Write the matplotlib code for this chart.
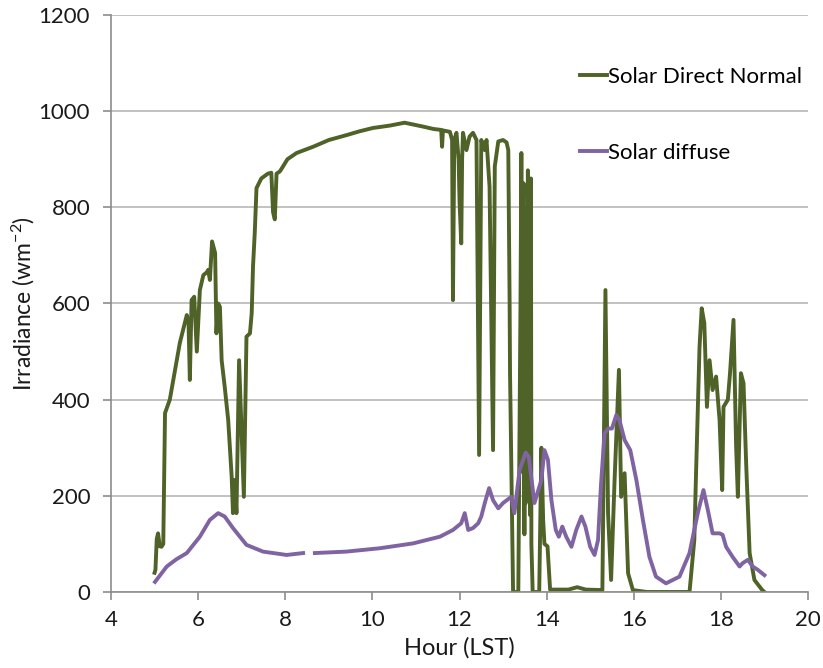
import matplotlib
matplotlib.use('Agg')
import matplotlib.pyplot as plt
import numpy as np

plt.rcParams['font.family'] = ['Lato', 'DejaVu Sans']
plt.rcParams['mathtext.default'] = 'regular'

# Solar Direct Normal (hour LST, W m-2)
direct_hours = [5.00, 5.02, 5.05, 5.08, 5.12, 5.16, 5.20, 5.24, 5.35, 5.58, 5.74, 5.78, 5.81, 5.85,
                5.91, 5.97, 6.04, 6.12, 6.20, 6.23, 6.27, 6.32, 6.39, 6.42, 6.46, 6.50, 6.54, 6.61,
                6.69, 6.77, 6.80, 6.84, 6.88, 6.94, 7.00, 7.05, 7.11, 7.19, 7.23, 7.26, 7.30, 7.34,
                7.45, 7.60, 7.68, 7.72, 7.76, 7.80, 7.88, 8.05, 8.26, 8.64, 9.00, 9.40, 9.70, 10.01,
                10.40, 10.74, 10.95, 11.16, 11.40, 11.58, 11.60, 11.62, 11.78, 11.83, 11.85, 11.88,
                11.93, 11.98, 12.00, 12.04, 12.06, 12.08, 12.16, 12.23, 12.31, 12.39, 12.45, 12.50,
                12.58, 12.62, 12.69, 12.77, 12.81, 12.89, 13.00, 13.08, 13.12, 13.15, 13.16, 13.23,
                13.35, 13.40, 13.42, 13.44, 13.45, 13.47, 13.49, 13.50, 13.52, 13.53, 13.55, 13.57,
                13.58, 13.60, 13.62, 13.64, 13.65, 13.68, 13.83,
                13.88, 13.92, 13.95, 14.02, 14.08, 14.50, 14.70, 14.90, 15.28, 15.35, 15.41, 15.48,
                15.56, 15.66, 15.71, 15.79, 15.87, 15.98, 16.30, 17.28, 17.39, 17.43, 17.51, 17.56,
                17.62, 17.68, 17.74, 17.81, 17.89, 17.97, 18.03, 18.06, 18.16, 18.21, 18.29, 18.35,
                18.39, 18.46, 18.52, 18.58, 18.66, 18.77, 18.95, 19.00]
direct_vals = [40, 46, 110, 122, 95, 94, 100, 372, 400, 518, 576, 560, 441, 607,
               614, 500, 628, 659, 665, 670, 649, 729, 705, 538, 600, 593, 482, 427,
               358, 240, 164, 233, 164, 482, 330, 198, 531, 538, 580, 677, 747, 840,
               860, 870, 872, 790, 775, 870, 875, 900, 913, 926, 940, 950, 958, 965,
               970, 976, 972, 968, 963, 961, 926, 960, 957, 940, 607, 940,
               955, 900, 815, 725, 900, 955, 919, 947, 955, 940, 285, 940,
               919, 940, 843, 295, 885, 937, 940, 935, 919, 607, 455, 0,
               0, 600, 913, 250, 700, 850, 120, 600, 185, 800, 300, 877,
               200, 820, 160, 860, 100, 0, 0,
               300, 150, 100, 95, 5, 5, 10, 5, 4, 628, 164, 25,
               233, 462, 198, 247, 39, 4, 0, 0, 108, 247, 510, 590,
               559, 385, 482, 420, 448, 358, 212, 385, 400, 455, 566, 302,
               198, 455, 434, 268, 81, 25, 4, 0]

# Solar diffuse (gap in the record around 8.5 h)
diffuse_hours = [5.01, 5.28, 5.50, 5.74, 6.04, 6.27, 6.46, 6.61, 6.80, 7.11, 7.49, 7.88, 8.03, 8.41,
                 8.50, 8.68, 9.40, 10.17, 10.93, 11.55, 11.85, 12.04, 12.12, 12.20, 12.31, 12.43,
                 12.50, 12.58, 12.68, 12.77, 12.89, 13.00, 13.19, 13.26, 13.38, 13.52, 13.59, 13.72,
                 13.88, 13.95, 14.03, 14.11, 14.21, 14.28, 14.36, 14.45, 14.57, 14.68, 14.80, 14.89,
                 15.00, 15.10, 15.18, 15.25, 15.33, 15.41, 15.50, 15.60, 15.67, 15.79, 15.92, 16.06,
                 16.21, 16.36, 16.51, 16.74, 17.05, 17.28, 17.47, 17.60, 17.70, 17.81, 17.97, 18.04,
                 18.12, 18.27, 18.43, 18.50, 18.62, 18.73, 18.85, 19.00]
diffuse_vals = [21, 53, 68, 81, 115, 150, 164, 157, 133, 98, 84, 79, 77, 81,
                np.nan, 81, 84, 91, 101, 115, 129, 143, 164, 129, 133, 143,
                157, 185, 216, 191, 174, 185, 198, 164, 254, 290, 281, 185,
                233, 295, 275, 191, 129, 115, 136, 115, 94, 129, 157, 136,
                94, 77, 108, 226, 330, 340, 340, 368, 358, 316, 295, 233,
                150, 73, 32, 18, 32, 81, 164, 212, 171, 122, 122, 119,
                94, 73, 53, 60, 67, 53, 46, 35]

x_ticks = [4, 6, 8, 10, 12, 14, 16, 18, 20]
y_ticks = [0, 200, 400, 600, 800, 1000, 1200]

fig = plt.figure(figsize=(8.23, 6.68), dpi=100)
ax = fig.add_axes([111 / 823, 1 - 592 / 668, 697 / 823, 577 / 668])

ax.plot(direct_hours, direct_vals, color='#4f6228', linewidth=2.8, label='Solar Direct Normal')
ax.plot(diffuse_hours, diffuse_vals, color='#8064a2', linewidth=2.8, label='Solar diffuse')

ax.set_xlim(4, 20)
ax.set_ylim(0, 1200)
ax.set_xticks(x_ticks)
ax.set_yticks(y_ticks)
ax.grid(axis='y', color='#b8b8b8', linewidth=1.2)
ax.set_axisbelow(True)

for side in ['top', 'right']:
    ax.spines[side].set_visible(False)
for side in ['left', 'bottom']:
    ax.spines[side].set_color('#8c8c8c')
    ax.spines[side].set_linewidth(1.2)

ax.tick_params(axis='both', colors='#8c8c8c', labelcolor='#1a1a1a', labelsize=16,
               length=6, width=1.2, direction='out')
ax.tick_params(axis='x', pad=7)
ax.tick_params(axis='y', pad=9)

ax.set_xlabel('Hour (LST)', fontsize=17, color='#1a1a1a', labelpad=5)
ax.set_ylabel('Irradiance (wm$^{-2}$)', fontsize=16.5, color='#1a1a1a', labelpad=1)

leg = ax.legend(loc='upper left', bbox_to_anchor=(560 / 823, 1 - 47 / 668),
                bbox_transform=fig.transFigure, frameon=False, fontsize=16,
                handlelength=1.2, handletextpad=0.05, labelspacing=2.5)

fig.savefig('out.png', dpi=100)
